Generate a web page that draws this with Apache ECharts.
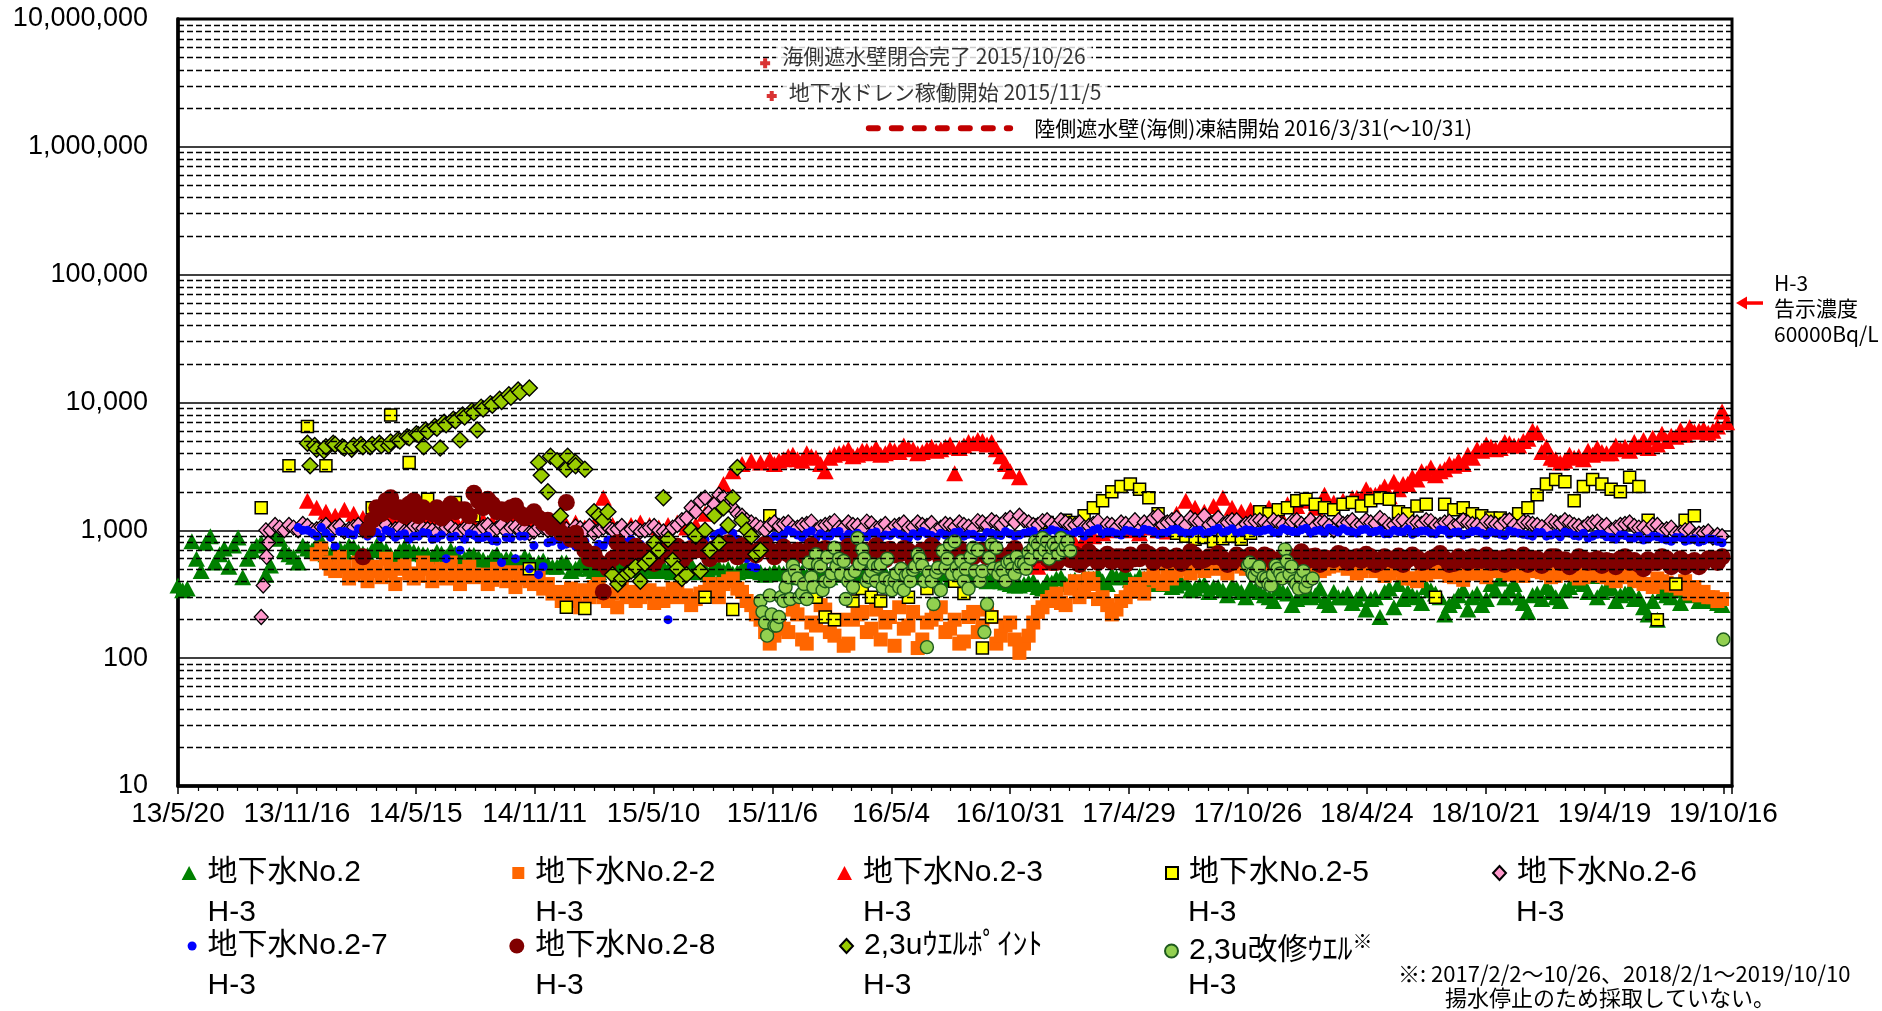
<!DOCTYPE html>
<html>
<head>
<meta charset="utf-8">
<title>地下水 H-3 濃度推移</title>
<script src="https://cdn.jsdelivr.net/npm/echarts@6/dist/echarts.min.js"></script>
<style>
  html, body { margin: 0; padding: 0; background: #ffffff; }
  #chart { width: 1882px; height: 1011px; }
</style>
</head>
<body>
<div id="chart"></div>
<script>
// ---------------------------------------------------------------------------
// Axis range (horizontal axis is counted in days from AXIS_START)
// ---------------------------------------------------------------------------
const AXIS_START = '2013-05-20';
const AXIS_END = '2019-10-29';
const TICK_DAYS = 180;
const Y_MIN = 10;
const Y_MAX = 10000000;

// fortnightly sampling step of the well series (days); the "B" arrays hold
// the samples taken in the weeks between the "A" dates
const STEP = 14;

// ---------------------------------------------------------------------------
// 地下水No.2  H-3 (Bq/L)
// ---------------------------------------------------------------------------
const no2Start = '2013-05-20';
const no2Values = [
  370, 350, 600, 800, 560, 720, 760, 430, 700, 800, 530, 860, 650, 560,
  720, 780, 650, 700, 680, 740, 660, 700, 720, 640, 690, 700, 660,
  640, 680, 620, 660, 600, 640, 590, 620, 580, 600, 560, 590, 560,
  540, 520, 560, 500, 530, 480, 510, 540, 500, 520, 490, 510,
  500, 480, 520, 500, 470, 490, 520, 480, 460, 500, 480, 470, 460,
  470, 450, 480, 440, 460, 490, 450, 470, 440, 460, 480, 450, 430, 460, 470, 440, 450, 420, 460, 440, 430, 450, 410, 430, 400, 380,
  370, 390, 360, 400, 420, 380, 410, 440, 420, 400, 450, 430, 410, 440, 420, 380, 400, 370, 390, 350, 380, 360, 340, 370, 330, 360,
  330, 300, 350, 320, 290, 340, 310, 280, 330, 300, 270, 320, 290, 210, 350, 380, 330, 300, 360, 320, 220, 280, 340, 300, 260,
  380, 420, 340, 300, 230, 320, 360, 300, 340, 400, 380, 440, 330, 360, 310, 340, 300, 220, 200, 310, 340, 360, 320, 290, 280, 260
];
const no2StartB = '2013-05-27';
const no2ValuesB = [
  340, 820, 480, 900, 650, 520, 880, 600, 760, 450, 900, 700, 620,
  760, 700, 820, 640, 720, 760, 680, 640, 760, 700, 620, 740, 680, 650,
  620, 660, 700, 580, 640, 610, 560, 650, 600, 570, 620, 540, 580,
  520, 560, 480, 540, 500, 470, 530, 560, 490, 510, 540, 480,
  520, 470, 500, 540, 480, 460, 510, 500, 470, 520, 490, 450, 480,
  460, 430, 470, 450, 480, 430, 460, 450, 420, 470, 440, 460, 420, 450, 480, 430, 440, 460, 410, 450, 420, 440, 400, 420, 390, 370,
  380, 400, 350, 390, 430, 400, 390, 420, 450, 380, 430, 460, 400, 420, 390, 410, 360, 390, 340, 370, 330, 360, 310, 350, 300, 340,
  310, 280, 330, 260, 310, 300, 350, 260, 300, 320, 290, 240, 300, 330, 250, 290, 310, 270, 340, 300, 260, 310, 240, 320, 290,
  340, 300, 380, 270, 310, 290, 330, 280, 360, 420, 330, 300, 350, 280, 320, 290, 250, 280, 330, 300, 270, 310, 280, 300, 270
];

// 地下水No.2-2
const no22Start = '2013-12-16';
const no22Values = [
  650, 560, 480, 520, 450, 470, 520, 430, 480, 500, 460, 440, 500, 470, 420, 460, 480, 430, 450, 410, 440, 470, 420, 400, 430,
  380, 330, 300, 280, 340, 360, 300, 320, 350, 330, 300, 340,
  320, 300, 340, 310, 290, 330, 350, 380, 420, 330, 260, 200, 130,
  200, 160, 220, 130, 180, 240, 150, 125, 200, 230, 170, 140, 210, 250, 180, 120, 190, 220, 160, 200, 135, 230, 180, 210, 150, 190,
  110, 150, 230, 280, 320, 260, 400, 330, 380, 300, 220, 280, 330, 350, 420, 400, 460, 480, 500, 520, 480, 540, 500, 550, 520, 560,
  520, 560, 500, 540, 580, 520, 550, 500, 530, 560, 510, 480, 530, 500, 460, 490, 420, 400, 450, 480, 500, 430, 410, 460, 490,
  520, 480, 450, 470, 500, 480, 460, 440, 470, 450, 430, 460, 440, 420, 450, 430, 400, 380, 420, 390, 370, 400, 360, 330, 300, 290
];
const no22StartB = '2013-12-23';
const no22ValuesB = [
  720, 500, 620, 420, 560, 400, 480, 600, 380, 530, 420, 560, 400, 500, 560, 380, 520, 440, 380, 500, 400, 360, 470, 380, 350,
  320, 280, 350, 250, 300, 380, 280, 250, 300, 280, 320, 270,
  280, 350, 300, 260, 320, 380, 300, 400, 350, 280, 220, 160, 150,
  170, 240, 140, 190, 260, 160, 200, 130, 220, 160, 240, 190, 125, 170, 230, 140, 200, 250, 170, 130, 210, 160, 240, 130, 180, 140,
  130, 190, 250, 300, 270, 350, 300, 420, 290, 260, 240, 300, 380, 320, 450, 380, 420, 520, 460, 560, 500, 520, 460, 580, 500, 540,
  560, 500, 540, 600, 500, 560, 480, 520, 580, 500, 460, 520, 480, 440, 500, 460, 420, 480, 520, 470, 440, 500, 520, 460, 430,
  480, 500, 460, 440, 490, 470, 430, 460, 480, 420, 450, 470, 430, 400, 440, 410, 380, 360, 400, 370, 350, 320, 310, 300, 280
];

// 地下水No.2-3
const no23Start = '2013-12-02';
const no23Values = [
  1700, 1500, 1400, 1300, 1450, 1350,
  1250, 1200, 1150, 1300, 1200, 1150, 1250, 1200, 1150, 1100, 1200, 1150, 1100, 1200, 1150, 1100, 1200, 1150, 1100, 1150,
  1100, 1200, 1100, 1150, 1050, 1100, 1800, 1100, 1050, 1100, 1150, 1100, 1050, 1100, 1150, 1050, 1100,
  1350, 1700, 2300, 2900, 3300, 3500, 3400, 3600,
  3500, 3800, 3600, 4000, 3700, 2900, 3900, 4100, 3800, 4200, 4000, 3900, 4300, 4100, 4400, 4000, 4300, 4200, 4500, 2800,
  4600, 4800, 5000, 4900, 3800, 2900,
  2600,
  600, 520, 560, 650, 720, 800, 850, 900, 950, 1000, 1050, 1000, 950, 1050, 1000, 980,
  1350, 1700, 1500, 1400, 1550, 1800, 1500, 1400, 1450,
  1350, 1500, 1400, 1600, 1550, 1700, 1500, 1900, 1650, 1700, 1800, 1750, 1900, 2000, 1850, 2100, 2300, 2500, 2800, 2700,
  3000, 3200, 3300, 3700, 4200, 4500, 4400, 4800, 4600, 5200, 5800, 4500, 3600, 3500, 3700, 3600, 3900, 4100, 4000, 4300,
  4200, 4500, 4400, 4700, 5000, 5400, 5600, 5900, 6200, 6000, 8500
];
const no23StartB = '2015-11-09';
const no23ValuesB = [
  3300, 3600, 3900, 3500, 3800, 3300, 3700, 4000, 4300, 3900, 4200, 4400, 4000, 4200, 4600, 4300, 4100, 4500, 4300, 4700,
  4400, 4900, 5100, 4700, 4300, 3300
];
const no23StartC = '2018-04-09';
const no23ValuesC = [
  1800, 2100, 1900, 2200, 2400, 2300, 2600, 2900, 3100, 2900, 3300, 3500, 3900, 4300, 4700, 4300, 4900, 4600, 5000, 6000,
  4100, 3700, 3400, 3900, 3800, 4200, 4400, 4000, 4600, 4500, 4900, 5100, 5300, 5700, 5500, 6100, 6400, 6000, 5800, 6500,
  7000
];

// 地下水No.2-5 (null = not sampled)
const no25Start = '2013-09-23';
const no25Values = [
  1500, null, null, 3200, null, 6500, null, 3200, null, null, null, null, 1500, null, 8000, null, 3400, null, 1750, null,
  null, 1650, null, 1300, null, null, null, null, null, 500, null, null, null, 250, null, 245,
  null, null, null, null, null, null, null, null, null, null, null, null,
  300, null, null, 240, null, null, null, 1300, null, null, null, null,
  300, 210, 200, null, 280, 350, 300, 280, null, null, 300, null, 350, null, null, 400, 320, null, 120, 210,
  null, null, null, null,
  1100, 1150, 1100, 1200, 1150, 1300, 1500, 1700, 2000, 2200, 2300, 2100, 1800, 1350, 1100, 950, 900, 850, 880, 820,
  860, 900, 850, 950,
  1400, 1350, 1450, 1500, 1700, 1750, 1600, 1500, 1450, 1600, 1650, 1550, 1700, 1800, 1750, 1400, 1350, 1550, 1600, 300,
  1600, 1450, 1500, 1350, 1300,
  1250, 1250, 1200, 1350, 1500, 1900, 2300, 2500, 2400, 1700, 2200, 2500, 2300, 2100, 2000, 2600, 2200, 1200, 200, null,
  380, 1200, 1300, null, null, null
];

// 地下水No.2-6
const no26Start = '2013-09-23';
const no26Values = [
  210, 1000, 1050, 1100, 1000, 1080, 1020, 1100, 1050, 980, 1060, 1000, 1100, 1040, 990, 1050, 1000, 1080, 1020, 960,
  1050, 1000, 1030, 980, 1060, 1000, 1100, 1050, 1000, 950, 1050, 1000, 980, 1020, 1070, 1000, 950, 1050, 1000, 1080,
  1020, 980, 1050,
  1000, 950, 1100, 1250, 1400, 1800, 1600, 1800, 1500, 1300, 1150, 1050, 1100,
  1080, 1150, 1050, 1120, 1000, 1100, 1180, 1050, 1100, 1020, 1130, 1070, 1000, 1100, 1050, 1150, 1080, 1000, 1120, 1060,
  1100, 1030, 1150, 1200, 1100, 1250,
  1300, 1150, 1100, 1200, 1080, 1150, 1100, 1050, 1120, 1000, 1100, 1150, 1080, 1020, 1100, 1300, 1150, 1250, 1100, 1200,
  1300, 1150, 1100, 1200, 1050, 1150,
  1200, 1100, 1150, 1050, 1200, 1100, 1080, 1150, 1000, 1120, 1200, 1100, 1150, 1250, 1100, 1180, 1050, 1150, 1200, 1100,
  1150, 1080, 1200, 1120, 1050,
  1150, 1100, 1200, 1050, 1150, 1100, 1000, 1150, 1200, 1100, 1050, 1150, 1080, 1000, 1100, 1150, 1050, 1000, 1100, 1020,
  950, 1000, 900, 950, 880, 900
];
const no26StartB = '2013-09-30';
const no26ValuesB = [
  1000, 1100, 1000, 1050, 1120, 1000, 1060, 980, 1080, 1020, 1100, 1000, 1050, 1100, 1020, 980, 1080, 1040, 1000, 1100,
  1060, 980, 1050, 1000, 1100, 1040, 980, 1060, 1020, 980, 1050, 1100, 1000, 960, 1040, 1080, 1000, 1060, 1020, 960,
  1050, 1000, 1080,
  980, 1050, 1200, 1500, 1700, 1400, 1900, 1600, 1350, 1200, 1100, 1000, 1150,
  1120, 1050, 1100, 1170, 1060, 1130, 1050, 1150, 1090, 1170, 1040, 1120, 1080, 1150, 1060, 1100, 1140, 1050, 1100, 1150,
  1070, 1180, 1100, 1150, 1200, 1150,
  1200, 1100, 1180, 1120, 1200, 1100, 1150, 1080, 1180, 1120, 1050, 1120, 1200, 1150, 1250, 1100, 1200, 1150, 1250, 1180,
  1100, 1250, 1150, 1200, 1120, 1180,
  1150, 1200, 1100, 1170, 1120, 1200, 1150, 1080, 1200, 1150, 1100, 1200, 1130, 1180, 1100, 1200, 1150, 1120, 1180, 1100,
  1170, 1120, 1150, 1100, 1180,
  1120, 1180, 1100, 1160, 1120, 1060, 1180, 1130, 1150, 1080, 1120, 1170, 1100, 1050, 1120, 1080, 1050, 1100, 1000, 1050,
  960, 1020, 940, 980, 920
];
const no26Extra = [['2013-09-26', 370], ['2013-10-01', 620], ['2013-10-04', 800]];

// 地下水No.2-7
const no27Start = '2013-11-18';
const no27Values = [
  1050, 1000, 900, 950, 750, 980, 920, 1000, 950, 880, 970, 920, 850, 900, 950, 870, 600, 900, 850, 920,
  880, 830, 560, 870, 900, 500, 450, 800, 850, 780, 750, 820, 700, 760, 800, 720, 850, 780, 730,
  800, 200, 700, 650, 780, 850, 900, 1000, 950, 700, 520, 800, 850,
  880, 1000, 920, 950, 870, 900, 960, 880, 920, 900, 950, 880, 910, 930, 870, 900, 940, 880, 920, 960,
  900, 930, 880, 950, 910, 940,
  920, 970, 900, 950, 990, 930, 960, 900, 1000, 940, 970, 920, 990, 950, 1000, 930, 960, 1020, 950, 990,
  940, 1000, 960, 1030, 970, 1000,
  980, 1020, 950, 1000, 960, 1040, 990, 950, 1000, 1030, 970, 1010, 960, 1000, 940, 980, 1020, 960, 990, 940,
  1000, 960, 920, 980, 950,
  970, 930, 990, 950, 920, 960, 900, 940, 970, 910, 950, 900, 930, 880, 920, 870, 900, 860, 890, 840,
  880, 820, 860, 830, 850, 800
];
const no27StartB = '2013-11-25';
const no27ValuesB = [
  1000, 950, 1050, 880, 980, 940, 1030, 900, 960, 1000, 880, 940, 900, 960, 850, 920, 880, 700, 940, 860,
  900, 820, 880, 600, 900, 760, 520, 820, 760, 880, 800, 700, 780, 840, 680, 800, 760, 700, 820,
  760, 620, 580, 900, 800, 720, 950, 1040, 850, 600, 510, 760, 900,
  920, 960, 880, 990, 940, 900, 980, 930, 950, 890, 970, 920, 960, 900, 940, 980, 910, 950, 900, 970,
  930, 890, 960, 920, 980, 900,
  950, 990, 930, 1010, 960, 920, 990, 950, 1030, 970, 940, 1000, 960, 1020, 980, 950, 1010, 970, 940, 1000,
  960, 1040, 990, 950, 1010, 980,
  1000, 960, 1030, 980, 1010, 950, 1000, 1040, 970, 990, 950, 1020, 980, 940, 1000, 970, 930, 990, 950, 1010,
  930, 970, 940, 990, 920,
  950, 910, 970, 930, 900, 960, 920, 890, 950, 900, 870, 930, 890, 850, 910, 870, 840, 900, 860, 820,
  880, 840, 810, 860, 820
];

// 地下水No.2-8
const no28Start = '2014-02-24';
const no28Values = [
  620, 1200, 1350, 1800, 1500, 1600, 1300, 1400, 1500, 1350, 1400, 1450, 1950, 1500, 1600, 1450, 1500, 1350, 1300, 1250,
  1200, 1100, 1650, 950, 700,
  650, 330, 600, 720, 650, 700, 680, 620, 700, 750, 640, 700, 680, 720, 650, 700, 760, 680, 720, 700,
  680, 650, 700, 620, 660, 720, 640, 690, 650, 700, 630, 670, 710, 650, 690, 620, 660, 700, 640, 680,
  650, 620, 690, 640, 600, 650,
  620, 580, 640, 600, 560, 620, 650, 590, 630, 600, 570, 620, 640, 600, 650, 610, 580, 630, 600, 640,
  590, 620, 600, 560, 610, 640,
  600, 620, 580, 640, 600, 570, 630, 610, 590, 640, 600, 580, 620, 560, 600, 630, 590, 610, 570, 620,
  600, 550, 590, 620, 580,
  560, 600, 620, 580, 540, 600, 570, 620, 590, 550, 600, 580, 530, 570, 600, 560, 540, 590, 560, 600,
  550, 520, 580, 560, 600, 620
];
const no28StartB = '2014-03-03';
const no28ValuesB = [
  1000, 1500, 1700, 1400, 1300, 1700, 1500, 1350, 1250, 1600, 1450, 1300, 1700, 1750, 1400, 1350, 1550, 1250, 1400, 1150,
  1050, 950, 850, 800, 600,
  560, 500, 800, 600, 750, 620, 550, 780, 640, 580, 720, 760, 600, 650, 800, 620, 700, 640, 780, 620,
  740, 600, 640, 760, 580, 700, 620, 750, 600, 680, 760, 590, 640, 720, 580, 700, 760, 600, 660, 720,
  580, 700, 620, 680, 560, 720,
  560, 640, 700, 560, 640, 590, 540, 680, 560, 650, 620, 540, 600, 680, 560, 640, 600, 550, 680, 570,
  620, 660, 540, 640, 580, 560,
  640, 560, 620, 570, 680, 620, 540, 600, 660, 560, 620, 650, 540, 620, 580, 540, 640, 560, 600, 660,
  540, 620, 560, 580, 640,
  600, 540, 580, 640, 600, 530, 620, 560, 520, 620, 560, 600, 580, 520, 620, 580, 500, 560, 620, 520,
  600, 560, 520, 600, 560
];

// 2,3uｳｴﾙﾎﾟｲﾝﾄ
const wellPointStart = '2013-12-02';
const wellPointValues = [
  4800, 4300, 4500, 4700, 4400, 4600, 4500, 4700, 4600, 4900, 5000, 5300, 5600, 5900, 6300, 6700, 7200, 7700, 8300, 8900,
  9500, 10200, 11000, 12000, 13000, 3400,
  2000, 3500, 3000, 3400, 3000, 1400, 1200,
  450, 420, 480, 400, 600, 700, 850, 500, 450, 900, 1000, 1300, 1500, 1800, 1200, 900, 700
];
const wellPointExtra = [
  ['2013-12-06', 3200], ['2013-12-13', 4600], ['2013-12-27', 4200], ['2014-01-10', 4800], ['2014-01-24', 4500],
  ['2014-02-07', 4300], ['2014-02-21', 4700], ['2014-03-07', 4500], ['2014-03-21', 4800], ['2014-04-04', 4600],
  ['2014-04-18', 5100], ['2014-05-02', 5400], ['2014-05-16', 5700], ['2014-05-27', 4500], ['2014-05-30', 6100],
  ['2014-06-13', 6500], ['2014-06-21', 4400], ['2014-06-27', 7000], ['2014-07-11', 7400], ['2014-07-21', 5100],
  ['2014-07-25', 8000], ['2014-08-08', 8600], ['2014-08-16', 6100], ['2014-08-22', 9200], ['2014-09-05', 9800],
  ['2014-09-19', 10600], ['2014-10-03', 11500], ['2014-10-17', 12500],
  ['2014-11-21', 2700], ['2014-12-05', 3800], ['2014-12-20', 1300], ['2014-12-31', 3800], ['2015-01-12', 3200],
  ['2015-02-16', 1300], ['2015-03-02', 1400], ['2015-03-17', 380],
  ['2015-03-31', 460], ['2015-04-13', 520], ['2015-04-27', 550], ['2015-05-11', 800], ['2015-05-25', 1800],
  ['2015-06-08', 580], ['2015-06-22', 420], ['2015-07-06', 1000], ['2015-07-20', 480], ['2015-08-03', 700],
  ['2015-08-17', 800], ['2015-08-31', 1100], ['2015-09-14', 3100], ['2015-09-28', 1000], ['2015-10-12', 650]
];

// 2,3u改修ｳｴﾙ : weekly, two samples per week
const repairWellStartA = '2015-10-19';
const repairWellValuesA = [
  280, 190, 310, 180, 210, 280, 430, 530, 420, 320, 290, 430, 650, 520, 400, 400, 730, 600, 575, 400,
  360, 870, 710, 400, 480, 400, 540, 420, 400, 400, 360, 340, 455, 490, 650, 530, 122, 400, 470, 340,
  510, 775, 820, 455, 400, 350, 730, 700, 480, 265, 775, 730, 510, 400, 575, 455, 520, 545, 670, 730,
  775, 870, 820, 730, 720, 870, 760, 690
];
const repairWellStartB = '2015-10-22';
const repairWellValuesB = [
  230, 150, 220, 180, 300, 360, 290, 480, 300, 380, 560, 360, 540, 340, 620, 460, 520, 455, 290, 455,
  480, 545, 600, 430, 540, 520, 360, 600, 340, 460, 500, 440, 400, 520, 600, 400, 470, 265, 510, 690,
  600, 455, 510, 575, 500, 620, 480, 400, 160, 610, 500, 455, 480, 560, 500, 620, 560, 500, 600, 820,
  650, 700, 600, 780, 650, 700, 820, null
];
const repairWellStart2A = '2017-10-26';
const repairWellValues2A = [530, 460, 490, 400, 420, 370, 530, 460, 710, 455, 400, 350, 480, 400, 420];
const repairWellStart2B = '2017-10-29';
const repairWellValues2B = [560, 440, 520, 430, 380, 450, 500, 420, 575, 520, 380, 430, 360, null, null];
const repairWellExtra = [['2019-10-16', 140]];

// Event annotations (date, plotted height, text)
const eventDates = ['2015-10-26', '2015-11-05'];
const eventLevels = [4500000, 2500000];
const eventTexts = ['海側遮水壁閉合完了 2015/10/26', '地下水ドレン稼働開始 2015/11/5'];
const freezeDates = ['2016-03-31', '2016-10-31'];
const freezeLevel = 1400000;
const freezeText = '陸側遮水壁(海側)凍結開始 2016/3/31(～10/31)';

// Notified concentration limit for H-3
const limitValue = 60000;
const limitText = 'H-3\n告示濃度\n60000Bq/L';

// Legend names
const seriesNames = [
  '地下水No.2', '地下水No.2-2', '地下水No.2-3', '地下水No.2-5', '地下水No.2-6',
  '地下水No.2-7', '地下水No.2-8', '2,3uｳｴﾙﾎﾟｲﾝﾄ', '2,3u改修ｳｴﾙ'
];
const footnoteLines = ['※: 2017/2/2～10/26、2018/2/1～2019/10/10', '揚水停止のため採取していない。'];

// ---------------------------------------------------------------------------
// helpers
// ---------------------------------------------------------------------------
const DAY_MS = 86400000;
function utc(s) { const p = s.split('-').map(Number); return Date.UTC(p[0], p[1] - 1, p[2]); }
const BASE_MS = utc(AXIS_START);
function dayOf(s) { return Math.round((utc(s) - BASE_MS) / DAY_MS); }
function dateLabel(d) {
  const t = new Date(BASE_MS + d * DAY_MS);
  return (t.getUTCFullYear() % 100) + '/' + (t.getUTCMonth() + 1) + '/' + t.getUTCDate();
}
function onGrid(start, step, values) {
  const d0 = dayOf(start);
  const out = [];
  values.forEach(function (v, k) { if (v != null) out.push([d0 + k * step, v]); });
  return out;
}
function onDates(pairs) { return pairs.map(function (p) { return [dayOf(p[0]), p[1]]; }); }
// merge A and B samples in date order so overlaps stack chronologically
function merged() {
  const all = [].concat.apply([], arguments);
  return all.sort(function (a, b) { return a[0] - b[0]; });
}

// dashed minor grid lines at 2..9 x 10^n
const minorGridValues = [];
for (let e = 1; e < 7; e++) for (let m = 2; m <= 9; m++) minorGridValues.push(m * Math.pow(10, e));

const FONT_LATIN = '"Liberation Sans", Arial, "Noto Sans CJK JP", sans-serif';
const FONT_NARROW = '"Liberation Sans Narrow", "Arial Narrow", "Liberation Sans", sans-serif';
const FONT_JP = '"Noto Sans CJK JP", "Noto Sans", sans-serif';

function scatter(name, data, symbol, size, color, borderColor, borderWidth) {
  return {
    type: 'scatter', name: name, data: data, symbol: symbol, symbolSize: size,
    itemStyle: { color: color, borderColor: borderColor || color, borderWidth: borderWidth || 0, opacity: 1 },
    emphasis: { disabled: true }, animation: false
  };
}

const series = [
  {
    type: 'line', name: 'minor-grid', data: [], silent: true, z: 1, animation: false,
    markLine: {
      silent: true, symbol: ['none', 'none'], label: { show: false }, animation: false,
      emphasis: { disabled: true },
      lineStyle: { color: '#000', type: [6, 3], width: 1.4 },
      data: minorGridValues.map(function (v) { return { yAxis: v }; })
    }
  },
  scatter(seriesNames[0],
    merged(onGrid(no2Start, STEP, no2Values), onGrid(no2StartB, STEP, no2ValuesB)),
    'triangle', [17, 16], '#008000'),
  scatter(seriesNames[1],
    merged(onGrid(no22Start, STEP, no22Values), onGrid(no22StartB, STEP, no22ValuesB)),
    'rect', 14, '#FF6600'),
  scatter(seriesNames[2],
    merged(onGrid(no23Start, STEP, no23Values), onGrid(no23StartB, STEP, no23ValuesB), onGrid(no23StartC, STEP, no23ValuesC)),
    'triangle', [17, 16], '#FF0000'),
  scatter(seriesNames[3], onGrid(no25Start, STEP, no25Values), 'rect', 12, '#FFFF00', '#000', 1.5),
  scatter(seriesNames[4],
    merged(onGrid(no26Start, STEP, no26Values), onGrid(no26StartB, STEP, no26ValuesB), onDates(no26Extra)),
    'diamond', [14, 15], '#FF99CC', '#000', 1.3),
  scatter(seriesNames[5],
    merged(onGrid(no27Start, STEP, no27Values), onGrid(no27StartB, STEP, no27ValuesB)),
    'circle', 9, '#0000FF'),
  scatter(seriesNames[6],
    merged(onGrid(no28Start, STEP, no28Values), onGrid(no28StartB, STEP, no28ValuesB)),
    'circle', 17, '#800000'),
  scatter(seriesNames[7],
    merged(onGrid(wellPointStart, STEP, wellPointValues), onDates(wellPointExtra)),
    'diamond', [16, 16], '#99CC00', '#000', 1.4),
  scatter(seriesNames[8],
    merged(onGrid(repairWellStartA, 7, repairWellValuesA), onGrid(repairWellStartB, 7, repairWellValuesB),
      onGrid(repairWellStart2A, 7, repairWellValues2A), onGrid(repairWellStart2B, 7, repairWellValues2B),
      onDates(repairWellExtra)),
    'circle', 13, '#92D050', '#1E5A1E', 1.4),
  {
    type: 'scatter', name: 'events', animation: false, z: 5,
    symbol: 'path://M3,0H7V3H10V7H7V10H3V7H0V3H3Z', symbolSize: 10,
    itemStyle: { color: '#D00000' },
    emphasis: { disabled: true },
    label: {
      show: true, position: 'right', distance: 6, color: '#000', fontSize: 21, fontFamily: FONT_JP,
      backgroundColor: '#fff', padding: [2, 6, 2, 6],
      formatter: function (p) { return p.data.text; }
    },
    data: eventDates.map(function (d, k) {
      return { value: [dayOf(d), eventLevels[k]], text: eventTexts[k], label: { offset: [0, k === 0 ? -7 : -4] } };
    })
  },
  {
    type: 'line', name: 'freeze', animation: false, z: 5, symbol: 'none', silent: true,
    lineStyle: { color: '#C00000', width: 6, type: [9, 14], cap: 'round' },
    data: freezeDates.map(function (d) { return [dayOf(d), freezeLevel]; }),
    endLabel: {
      show: true, distance: 20, color: '#000', fontSize: 21, fontFamily: FONT_JP,
      backgroundColor: '#fff', padding: [2, 4, 2, 4],
      formatter: function () { return freezeText; }
    }
  }
];

// legend: 5 columns x 2 rows, second line "H-3" under each name
const legendTextX = [207.6, 535.3, 863, 1188, 1516];
const legendRowY = [876, 949];
const legendSubY = [914.5, 988];
const legendSlots = [[0, 0], [1, 0], [2, 0], [3, 0], [4, 0], [0, 1], [1, 1], [2, 1], [3, 1]];
const legendIcon = [[15, 14], [12, 12], [15, 14], [12, 12], [13, 14], [9, 9], [15, 15], [13, 14], [13, 13]];

const legends = seriesNames.map(function (name, k) {
  const col = legendSlots[k][0], row = legendSlots[k][1];
  const iw = legendIcon[k][0], ih = legendIcon[k][1];
  return {
    data: [name], selectedMode: false, padding: 0, orient: 'horizontal',
    left: legendTextX[col] - iw - 11, top: legendRowY[row] - 18,
    itemWidth: iw, itemHeight: ih, itemGap: 0,
    formatter: k === 8 ? function (n) { return n + '{s|※}'; } : undefined,
    textStyle: {
      fontSize: 30, color: '#000', fontFamily: FONT_LATIN, padding: [0, 0, 0, 6],
      rich: { s: { fontSize: 20, fontFamily: FONT_JP, padding: [0, 0, 20, 0], color: '#000' } }
    }
  };
});

const subLabels = seriesNames.map(function (name, k) {
  const col = legendSlots[k][0], row = legendSlots[k][1];
  return {
    type: 'text', left: legendTextX[col], top: legendSubY[row] - 17, silent: true,
    style: { text: 'H-3', fontSize: 30, fontFamily: FONT_LATIN, fill: '#000' }
  };
});

const footnotes = [
  {
    type: 'text', left: 1398, top: 963, silent: true,
    style: { text: footnoteLines[0], fontSize: 22, fontFamily: FONT_JP, fill: '#000' }
  },
  {
    type: 'text', left: 1445, top: 987, silent: true,
    style: { text: footnoteLines[1], fontSize: 22, fontFamily: FONT_JP, fill: '#000' }
  }
];

const option = {
  animation: false,
  backgroundColor: '#ffffff',
  grid: {
    left: 178, right: 150, top: 19, bottom: 225, containLabel: false, outerBoundsMode: 'none',
    show: true, borderColor: '#000', borderWidth: 3, backgroundColor: 'transparent'
  },
  xAxis: {
    type: 'value', min: 0, max: dayOf(AXIS_END), interval: TICK_DAYS,
    axisLine: { show: true, lineStyle: { color: '#000', width: 3.5 } },
    axisTick: { show: true, length: 8, lineStyle: { color: '#000', width: 1.5 } },
    minorTick: { show: true, splitNumber: 6, length: 5, lineStyle: { color: '#000', width: 1.2 } },
    splitLine: { show: false },
    axisLabel: {
      show: true, margin: 14, fontSize: 28, fontFamily: FONT_NARROW, color: '#000',
      showMaxLabel: false,
      formatter: function (v) { return v % TICK_DAYS === 0 ? dateLabel(v) : ''; }
    }
  },
  yAxis: {
    type: 'log', logBase: 10, min: Y_MIN, max: Y_MAX, splitNumber: 6,
    axisLine: { show: true, lineStyle: { color: '#000', width: 3.5 } },
    axisTick: { show: false },
    splitLine: { show: true, lineStyle: { color: '#000', width: 1.6 } },
    axisLabel: {
      show: true, margin: 30, fontSize: 27, fontFamily: FONT_LATIN, color: '#000',
      formatter: function (v) { return Math.round(v).toLocaleString('en-US'); }
    }
  },
  legend: legends,
  series: series,
  graphic: subLabels.concat(footnotes)
};

const chart = echarts.init(document.getElementById('chart'), null, { renderer: 'canvas' });
chart.setOption(option);

// limit arrow on the right edge, placed from the axis scale
const yLimit = chart.convertToPixel({ yAxisIndex: 0 }, limitValue);
const xEdge = chart.convertToPixel({ xAxisIndex: 0 }, dayOf(AXIS_END));
chart.setOption({
  graphic: subLabels.concat(footnotes).concat([
    {
      type: 'line', silent: true,
      shape: { x1: xEdge + 12, y1: yLimit, x2: xEdge + 31, y2: yLimit },
      style: { stroke: '#FF0000', lineWidth: 3.5 }
    },
    {
      type: 'polygon', silent: true,
      shape: { points: [[xEdge + 4, yLimit], [xEdge + 15, yLimit - 6.5], [xEdge + 15, yLimit + 6.5]] },
      style: { fill: '#FF0000' }
    },
    {
      type: 'text', silent: true, x: xEdge + 42, y: yLimit + 5,
      style: {
        text: limitText, fontSize: 21, lineHeight: 25.5, fontFamily: FONT_JP, fill: '#000',
        verticalAlign: 'middle', align: 'left'
      }
    }
  ])
}, { replaceMerge: ['graphic'] });
</script>
</body>
</html>
